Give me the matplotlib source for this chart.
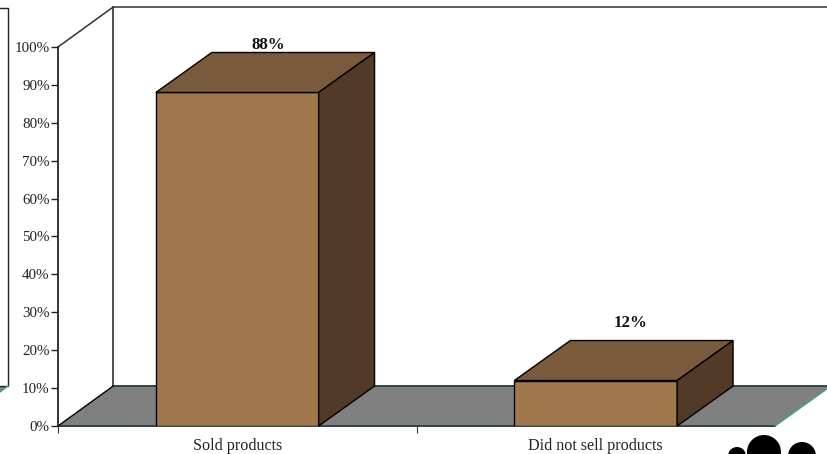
import matplotlib
matplotlib.use("Agg")
import matplotlib.pyplot as plt
from matplotlib.patches import Polygon, Circle
from matplotlib.transforms import Affine2D

plt.rcParams['font.family'] = ['Liberation Serif', 'DejaVu Serif']

categories = ['Sold products', 'Did not sell products']
values = [88, 12]
value_labels = ['88%', '12%']
y_ticks = [0, 10, 20, 30, 40, 50, 60, 70, 80, 90, 100]

W, H = 827, 454
FRONT = '#A0784C'
TOP = '#7A5A3C'
SIDE = '#523A26'
FLOOR = '#808080'

fig = plt.figure(figsize=(W / 100, H / 100), dpi=100)
ax = fig.add_axes([58 / W, 1 - 426 / H, 717 / W, 379 / H])
ax.set_xlim(0, 2)
ax.set_ylim(0, 100)
ax.patch.set_visible(False)

# 3d depth of the box, in data units
dx = 0.156
dy = 10.55
bar_w = 0.454
wall_x = 0.154

# value label placement above each box
label_shift_x = [0.008, 0.02]
label_shift_y = [-0.1, 2.6]

for s in ['top', 'right', 'bottom']:
    ax.spines[s].set_visible(False)
ax.spines['left'].set_linewidth(1.3)
ax.spines['left'].set_color('#222222')

# floor and back wall
ax.add_patch(Polygon([(0, 0), (2, 0), (2 + dx, dy), (wall_x, dy)], closed=True, facecolor=FLOOR,
                     edgecolor='none', clip_on=False, zorder=1))
ax.plot([0, 2], [0, 0], color='#2F4444', lw=1.4, clip_on=False, zorder=1.5)
ax.plot([wall_x, 2 + dx], [dy, dy], color='#2F4444', lw=1.4, clip_on=False, zorder=1.5)
ax.plot([2, 2 + dx], [0, dy], color='#3FA08C', lw=1, clip_on=False, zorder=1.5)
ax.plot([0, wall_x], [0, dy], color='black', lw=1, clip_on=False, zorder=1.5)
ax.plot([0, wall_x, 2 + dx], [100, 100 + dy, 100 + dy], color='#333333', lw=1.1, clip_on=False, zorder=1.5)
ax.plot([wall_x, wall_x], [dy, 100 + dy], color='#222222', lw=1.1, clip_on=False, zorder=1.5)

# boxes
for i, v in enumerate(values):
    c = i + 0.5
    l, r = c - bar_w / 2, c + bar_w / 2
    ax.bar(c, v, width=bar_w, color=FRONT, edgecolor='black', linewidth=1, zorder=3)
    ax.add_patch(Polygon([(l, v), (r, v), (r + dx, v + dy), (l + dx, v + dy)], closed=True,
                         facecolor=TOP, edgecolor='black', lw=1, clip_on=False, zorder=3))
    ax.add_patch(Polygon([(r, 0), (r + dx, dy), (r + dx, v + dy), (r, v)], closed=True,
                         facecolor=SIDE, edgecolor='black', lw=1, clip_on=False, zorder=3))
    ax.text(c + dx / 2 + label_shift_x[i], v + dy + label_shift_y[i], value_labels[i], ha='center',
            va='bottom', fontsize=12.2, fontweight='bold', color='#111111', zorder=4)

ax.set_yticks(y_ticks)
ax.set_yticklabels([f'{t}%' for t in y_ticks], fontsize=10.8, color='#222222')
ax.tick_params(axis='y', length=5, width=1, pad=1, color='#222222')

ax.set_xticks([0, 1])
ax.set_xticklabels([])
ax.tick_params(axis='x', length=5, width=0.8, color='#333333')
for i, name in enumerate(categories):
    ax.text(i + 0.5, -3.1, name, ha='center', va='top', fontsize=11.6, color='#222222')

# pixel-space extras at the figure edges
px = Affine2D().scale(1, -1).translate(0, H)
fig.add_artist(plt.Line2D([0, 8, 8, 0], [8, 8, 386, 386], color='#222222', lw=1, transform=px))
fig.add_artist(Polygon([(0, 386), (8, 386), (0, 392)], closed=True, facecolor=FLOOR,
                       edgecolor='none', transform=px))
fig.add_artist(plt.Line2D([0, 8], [392, 386], color='#3FA08C', lw=1, transform=px))
for cx, cy, rad in [(737, 456, 9), (764, 452, 17), (802, 456, 14)]:
    fig.add_artist(Circle((cx, cy), rad, facecolor='black', edgecolor='none', transform=px))

fig.savefig('out.png', dpi=100)
